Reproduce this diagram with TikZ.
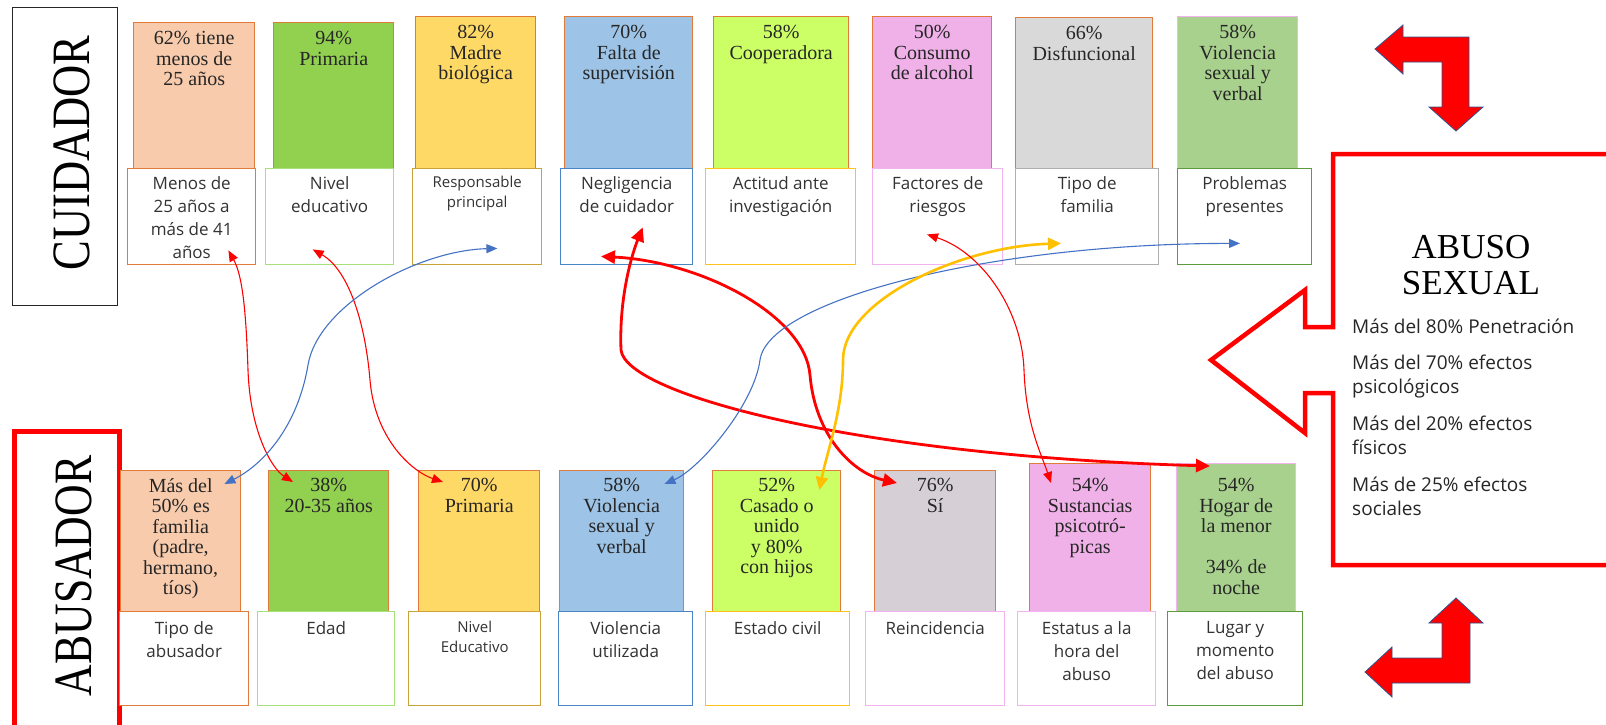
\documentclass[tikz,border=0pt]{standalone}
\usepackage{fontspec}
\setmainfont{Liberation Serif}
\newfontfamily\boxsans{Open Sans}
\usetikzlibrary{calc,positioning,arrows.meta}

\definecolor{peach}{HTML}{F8CBAD}
\definecolor{leaf}{HTML}{92D050}
\definecolor{sand}{HTML}{FFD966}
\definecolor{sky}{HTML}{9DC3E6}
\definecolor{limefill}{HTML}{CCFF66}
\definecolor{orchid}{HTML}{F0B0E8}
\definecolor{ash}{HTML}{D9D9D9}
\definecolor{ashpink}{HTML}{D6D0D6}
\definecolor{moss}{HTML}{A9D18E}
\definecolor{rim}{HTML}{E07B39}
\definecolor{rimgreen}{HTML}{A8E07C}
\definecolor{rimgold}{HTML}{C9A33A}
\definecolor{rimblue}{HTML}{4A86C5}
\definecolor{rimyellow}{HTML}{FFC21A}
\definecolor{rimpink}{HTML}{F3B3F0}
\definecolor{rimgray}{HTML}{AFAFAF}
\definecolor{rimmoss}{HTML}{5E9A3E}
\definecolor{linkred}{HTML}{FF0000}
\definecolor{linkblue}{HTML}{4472C4}
\definecolor{linkgold}{HTML}{FFC000}
\definecolor{bentedge}{HTML}{2F528F}

\tikzset{
  colbox/.style={line width=1.4pt, inner sep=0pt, anchor=north west},
  whitebox/.style={fill=white, line width=1.4pt, inner sep=0pt, anchor=north west, minimum height=96pt},
  serif/.style={font=\fontsize{20}{20.5}\selectfont, align=center, inner sep=0pt, text=black!85},
  sans/.style={font=\boxsans\fontsize{17}{23}\selectfont, align=center, inner sep=0pt, text=black!80},
  smallsans/.style={font=\boxsans\fontsize{15}{20}\selectfont, align=center, inner sep=0pt, text=black!80},
  thinlink/.style={draw=linkred, line width=1.1pt, >={Triangle[length=11pt,width=9pt]}, <->},
  thicklink/.style={draw=linkred, line width=2.8pt, >={Triangle[length=14pt,width=13pt]}, <->},
  bluelink/.style={draw=linkblue, line width=1.1pt, >={Triangle[length=11pt,width=9pt]}, <->},
  goldlink/.style={draw=linkgold, line width=2.6pt, >={Triangle[length=13pt,width=12pt]}, <->},
}
\def\drawthin{\draw[thinlink]}
\def\drawthick{\draw[thicklink]}
\def\drawblue{\draw[bluelink]}
\def\drawgold{\draw[goldlink]}
\def\drawbent{\filldraw[fill=red, draw=bentedge, line width=0.8pt]}

\begin{document}
\begin{tikzpicture}[x=1pt,y=-1pt]
\useasboundingbox (0,0) rectangle (1606,724);
\clip (0,0) rectangle (1606,724);

% -------- titles on the left ---------
\node[draw=black!85, line width=1.3pt, minimum width=105pt, minimum height=298pt, anchor=north west] (cuid) at (12,7) {};
\node[rotate=90, font=\fontsize{54}{54}\selectfont, inner sep=0pt] (cuidt) at (72,153) {\scalebox{0.825}[1]{CUIDADOR}};
\node[draw=linkred, line width=4.5pt, minimum width=105pt, minimum height=320pt, anchor=north west] (abus) at (12,429) {};
\node[rotate=90, font=\fontsize{54}{54}\selectfont, inner sep=0pt] (abust) at (74,576) {\scalebox{0.81}[1]{ABUSADOR}};

% -------- cuidador: coloured boxes ---------
\node[colbox, fill=peach, draw=rim, minimum width=121pt, minimum height=146pt] (cu1) at (133,22) {};
\node[colbox, fill=leaf, draw=rim, minimum width=120pt, minimum height=146pt] (cu2) at (273,22) {};
\node[colbox, fill=sand, draw=rim, minimum width=120pt, minimum height=152pt] (cu3) at (415,16) {};
\node[colbox, fill=sky, draw=rim, minimum width=128pt, minimum height=152pt] (cu4) at (564,16) {};
\node[colbox, fill=limefill, draw=rim, minimum width=135pt, minimum height=152pt] (cu5) at (713,16) {};
\node[colbox, fill=orchid, draw=rim, minimum width=119pt, minimum height=152pt] (cu6) at (872,16) {};
\node[colbox, fill=ash, draw=rim, minimum width=137pt, minimum height=151pt] (cu7) at (1015,17) {};
\node[colbox, fill=moss, draw=rimpink, minimum width=120pt, minimum height=152pt] (cu8) at (1177,16) {};
\node[serif, below=9pt of cu1.north] (cu1t) {62\% tiene\\menos de\\25 años};
\node[serif, below=9pt of cu2.north] (cu2t) {94\%\\Primaria};
\node[serif, below=9pt of cu3.north] (cu3t) {82\%\\Madre\\biológica};
\node[serif, below=9pt of cu4.north] (cu4t) {70\%\\Falta de\\supervisión};
\node[serif, below=9pt of cu5.north] (cu5t) {58\%\\Cooperadora};
\node[serif, below=9pt of cu6.north] (cu6t) {50\%\\Consumo\\de alcohol};
\node[serif, below=9pt of cu7.north] (cu7t) {66\%\\Disfuncional};
\node[serif, below=9pt of cu8.north] (cu8t) {58\%\\Violencia\\sexual y\\verbal};

% -------- cuidador: white boxes ---------
\node[whitebox, draw=rim, minimum width=128pt] (cw1) at (127,168) {};
\node[whitebox, draw=rimgreen, minimum width=128pt] (cw2) at (265,168) {};
\node[whitebox, draw=rimgold, minimum width=129pt] (cw3) at (412,168) {};
\node[whitebox, draw=rimblue, minimum width=132pt] (cw4) at (560,168) {};
\node[whitebox, draw=rimyellow, minimum width=150pt] (cw5) at (705,168) {};
\node[whitebox, draw=rimpink, minimum width=130pt] (cw6) at (872,168) {};
\node[whitebox, draw=rimgray, minimum width=143pt] (cw7) at (1015,168) {};
\node[whitebox, draw=rimmoss, minimum width=134pt] (cw8) at (1177,168) {};
\node[sans, below=8pt of cw1.north] (cw1t) {Menos de\\25 años a\\más de 41\\años};
\node[sans, below=8pt of cw2.north] (cw2t) {Nivel\\educativo};
\node[smallsans, below=8pt of cw3.north] (cw3t) {Responsable\\principal};
\node[sans, below=8pt of cw4.north] (cw4t) {Negligencia\\de cuidador};
\node[sans, below=8pt of cw5.north] (cw5t) {Actitud ante\\investigación};
\node[sans, below=8pt of cw6.north] (cw6t) {Factores de\\riesgos};
\node[sans, below=8pt of cw7.north] (cw7t) {Tipo de\\familia};
\node[sans, below=8pt of cw8.north] (cw8t) {Problemas\\presentes};

% -------- abusador: coloured boxes ---------
\node[colbox, fill=peach, draw=rim, minimum width=120pt, minimum height=141pt] (ab1) at (120,470) {};
\node[colbox, fill=leaf, draw=rim, minimum width=120pt, minimum height=141pt] (ab2) at (268,470) {};
\node[colbox, fill=sand, draw=rim, minimum width=121pt, minimum height=141pt] (ab3) at (418,470) {};
\node[colbox, fill=sky, draw=rim, minimum width=124pt, minimum height=141pt] (ab4) at (559,470) {};
\node[colbox, fill=limefill, draw=rim, minimum width=128pt, minimum height=141pt] (ab5) at (712,470) {};
\node[colbox, fill=ashpink, draw=rim, minimum width=121pt, minimum height=141pt] (ab6) at (874,470) {};
\node[colbox, fill=orchid, draw=rim, minimum width=121pt, minimum height=148pt] (ab7) at (1029,463) {};
\node[colbox, fill=moss, draw=rimpink, minimum width=119pt, minimum height=148pt] (ab8) at (1176,463) {};
\node[serif, below=8pt of ab1.north] (ab1t) {Más del\\50\% es\\familia\\(padre,\\hermano,\\tíos)};
\node[serif, below=8pt of ab2.north] (ab2t) {38\%\\20-35 años};
\node[serif, below=8pt of ab3.north] (ab3t) {70\%\\Primaria};
\node[serif, below=8pt of ab4.north] (ab4t) {58\%\\Violencia\\sexual y\\verbal};
\node[serif, below=8pt of ab5.north] (ab5t) {52\%\\Casado o\\unido\\y 80\%\\con hijos};
\node[serif, below=8pt of ab6.north] (ab6t) {76\%\\Sí};
\node[serif, below=15pt of ab7.north] (ab7t) {54\%\\Sustancias\\psicotró-\\picas};
\node[serif, below=15pt of ab8.north] (ab8t) {54\%\\Hogar de\\la menor\\[20.5pt]34\% de\\noche};

% -------- abusador: white boxes ---------
\node[whitebox, draw=rim, minimum width=129pt, minimum height=94pt] (aw1) at (119,611) {};
\node[whitebox, draw=rimgreen, minimum width=137pt, minimum height=94pt] (aw2) at (257,611) {};
\node[whitebox, draw=rimgold, minimum width=132pt, minimum height=94pt] (aw3) at (408,611) {};
\node[whitebox, draw=rimblue, minimum width=134pt, minimum height=94pt] (aw4) at (558,611) {};
\node[whitebox, draw=rimyellow, minimum width=144pt, minimum height=94pt] (aw5) at (705,611) {};
\node[whitebox, draw=rimpink, minimum width=139pt, minimum height=94pt] (aw6) at (865,611) {};
\node[whitebox, draw=rimpink, minimum width=138pt, minimum height=94pt] (aw7) at (1017,611) {};
\node[whitebox, draw=rimmoss, minimum width=135pt, minimum height=94pt] (aw8) at (1167,611) {};
\node[sans, below=10pt of aw1.north] (aw1t) {Tipo de\\abusador};
\node[sans, below=10pt of aw2.north] (aw2t) {Edad};
\node[smallsans, below=10pt of aw3.north] (aw3t) {Nivel\\Educativo};
\node[sans, below=10pt of aw4.north] (aw4t) {Violencia\\utilizada};
\node[sans, below=10pt of aw5.north] (aw5t) {Estado civil};
\node[sans, below=10pt of aw6.north] (aw6t) {Reincidencia};
\node[sans, below=10pt of aw7.north] (aw7t) {Estatus a la\\hora del\\abuso};
\node[sans, below=10pt of aw8.north] (aw8t) {Lugar y\\momento\\del abuso};

% -------- links between the two rows ---------
% end points hang off the boxes, the mid points are where the S turns
\coordinate (ed1) at ($ (cw1.south east) + (-28,-15) $);
\coordinate (ed2) at ($ (ab2.north west) + (25,12) $);
\coordinate (edm) at (248,370);
\drawthin (ed1) .. controls +(14,25) and +(-2,-60) .. (edm) .. controls +(2,60) and +(-22,-14) .. (ed2);

\coordinate (ni1) at ($ (cw2.south) + (-17,-16) $);
\coordinate (ni2) at ($ (ab3.north west) + (25,12) $);
\coordinate (nim) at (370,380);
\drawthin (ni1) .. controls +(35,20) and +(-5,-60) .. (nim) .. controls +(5,60) and +(-30,-10) .. (ni2);

\coordinate (re1) at ($ (cw3.south east) + (-45,-17) $);
\coordinate (re2) at ($ (ab1.north east) + (-17,14) $);
\coordinate (rem) at (308,365);
\drawblue (re1) .. controls +(-80,2) and +(10,-60) .. (rem) .. controls +(-10,60) and +(40,-20) .. (re2);

\coordinate (ne1) at ($ (cw4.south) + (16,-38) $);
\coordinate (ne2) at ($ (ab8.north west) + (34,3) $);
\coordinate (nem) at (621,350);
\drawthick (ne1) .. controls +(-12,30) and +(-2,-50) .. (nem) .. controls +(5,45) and +(-350,-10) .. (ne2);

\coordinate (ng1) at ($ (cw4.south west) + (41,-9) $);
\coordinate (ng2) at ($ (ab6.north west) + (23,13) $);
\coordinate (ngm) at (810,375);
\drawthick (ng1) .. controls +(100,5) and +(-5,-60) .. (ngm) .. controls +(5,60) and +(-45,-10) .. (ng2);

\coordinate (pr1) at ($ (cw8.south west) + (63,-22) $);
\coordinate (pr2) at ($ (ab4.north east) + (-20,14) $);
\coordinate (prm) at (760,360);
\drawblue (pr1) .. controls +(-250,0) and +(8,-60) .. (prm) .. controls +(-6,45) and +(35,-15) .. (pr2);

\coordinate (ti1) at ($ (cw7.south west) + (46,-22) $);
\coordinate (ti2) at ($ (ab5.north east) + (-22,20) $);
\coordinate (tim) at (843,360);
\drawgold (ti1) .. controls +(-100,3) and +(0,-60) .. (tim) .. controls +(0,50) and +(8,-40) .. (ti2);

\coordinate (fa1) at ($ (cw6.south west) + (55,-31) $);
\coordinate (fa2) at ($ (ab7.north west) + (22,20) $);
\coordinate (fam) at (1024,370);
\drawthin (fa1) .. controls +(55,18) and +(-2,-60) .. (fam) .. controls +(2,55) and +(-10,-30) .. (fa2);

% -------- abuso sexual callout ---------
\draw[draw=linkred, fill=white, line width=4.5pt] (1333,154) -- (1620,154) -- (1620,565) -- (1333,565) -- (1333,393) -- (1305,393) -- (1305,433) -- (1211,360) -- (1305,290) -- (1305,327) -- (1333,327) -- cycle;
\node[font=\fontsize{35}{36}\selectfont, align=center, inner sep=0pt] (abuso) at (1471,265) {ABUSO\\SEXUAL};
\node[anchor=north west, align=left, inner sep=0pt, font=\boxsans\fontsize{19}{24}\selectfont, text=black!85] (efectos) at (1352,319) {Más del 80\% Penetración\\[12pt]Más del 70\% efectos\\psicológicos\\[13pt]Más del 20\% efectos\\físicos\\[13pt]Más de 25\% efectos\\sociales};

% -------- bent arrows ---------
\drawbent (1375,49) -- (1403,25) -- (1403,37) -- (1469,37) -- (1469,107) -- (1483,107) -- (1456,131) -- (1429,107) -- (1442,107) -- (1442,62) -- (1403,62) -- (1403,74) -- cycle;
\drawbent (1365,672) -- (1392,647) -- (1392,658) -- (1442,658) -- (1442,623) -- (1429,623) -- (1456,598) -- (1483,623) -- (1470,623) -- (1470,683) -- (1392,683) -- (1392,697) -- cycle;
\end{tikzpicture}
\end{document}
